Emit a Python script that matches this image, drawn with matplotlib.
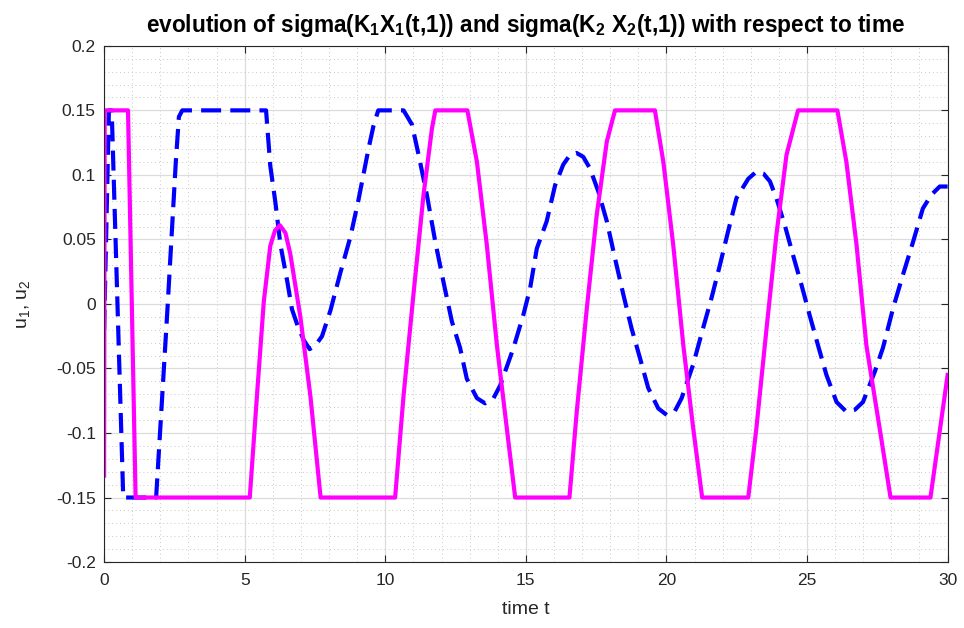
import numpy as np
import matplotlib
matplotlib.use("Agg")
import matplotlib.pyplot as plt
from matplotlib.ticker import MultipleLocator, FuncFormatter

plt.rcParams['font.family'] = ['Liberation Sans', 'DejaVu Sans']
plt.rcParams['mathtext.default'] = 'regular'

# u1 = sigma(K1 X1(t,1))  (magenta, solid)
t_u1 = [0, 0.02, 0.85, 1.12, 5.18, 5.44, 5.68, 5.91, 6.08, 6.25, 6.45, 6.62, 6.98,
        7.34, 7.70, 10.35, 10.65, 11.0, 11.36, 11.66, 11.78, 12.92, 13.26, 13.61,
        13.97, 14.32, 14.62, 16.55, 16.81, 17.17, 17.52, 17.88, 18.17, 19.59, 19.89,
        20.24, 20.60, 20.95, 21.27, 22.91, 23.20, 23.56, 23.91, 24.27, 24.68, 26.08,
        26.40, 26.76, 27.11, 27.58, 27.97, 29.39, 30.0]
u1 = [-0.133, 0.15, 0.15, -0.15, -0.15, -0.07, 0.002, 0.045, 0.057, 0.061, 0.055,
      0.039, -0.010, -0.072, -0.15, -0.15, -0.071, 0.007, 0.0845, 0.136, 0.15, 0.15,
      0.110, 0.046, -0.032, -0.096, -0.15, -0.15, -0.0835, -0.003, 0.069, 0.126,
      0.15, 0.15, 0.110, 0.046, -0.032, -0.096, -0.15, -0.15, -0.096, -0.019,
      0.0535, 0.1155, 0.15, 0.15, 0.110, 0.046, -0.032, -0.096, -0.15, -0.15, -0.055]

# u2 = sigma(K2 X2(t,1))  (blue, dashed)
t_u2 = [0, 0.17, 0.27, 0.68, 1.85, 2.25, 2.55, 2.66, 2.78, 5.76, 5.91, 6.09, 6.27,
        6.51, 6.68, 6.90, 7.10, 7.31, 7.52, 7.75, 8.05, 8.40, 8.76, 9.05, 9.41,
        9.58, 9.75, 10.65, 10.95, 11.18, 11.48, 11.78, 12.07, 12.37, 12.66, 12.90,
        13.26, 13.55, 13.85, 14.09, 14.56, 14.91, 15.15, 15.39, 15.74, 16.04, 16.33,
        16.57, 16.80, 17.04, 17.28, 17.58, 17.88, 18.17, 18.47, 18.76, 19.06, 19.35,
        19.71, 20.01, 20.30, 20.54, 20.95, 21.30, 21.60, 21.90, 22.19, 22.49, 22.91,
        23.20, 23.45, 23.68, 23.91, 24.21, 24.50, 24.80, 25.09, 25.39, 25.69, 26.05,
        26.40, 26.70, 26.99, 27.41, 27.70, 28.06, 28.41, 28.77, 29.12, 29.42, 29.72,
        30.0]
u2 = [-0.02, 0.15, 0.15, -0.15, -0.15, -0.005, 0.11, 0.145, 0.15, 0.15, 0.107,
      0.079, 0.046, 0.018, -0.004, -0.018, -0.028, -0.035, -0.032, -0.025, -0.005,
      0.024, 0.052, 0.081, 0.121, 0.138, 0.15, 0.15, 0.139, 0.116, 0.0845, 0.048,
      0.017, -0.0137, -0.034, -0.058, -0.073, -0.077, -0.073, -0.063, -0.034,
      -0.0085, 0.012, 0.043, 0.064, 0.092, 0.108, 0.1155, 0.117, 0.114, 0.105,
      0.087, 0.064, 0.0354, 0.007, -0.019, -0.042, -0.065, -0.081, -0.086, -0.083,
      -0.073, -0.047, -0.019, 0.0044, 0.030, 0.056, 0.082, 0.097, 0.1025, 0.101,
      0.095, 0.082, 0.061, 0.038, 0.015, -0.0085, -0.032, -0.055, -0.076, -0.0835,
      -0.082, -0.076, -0.0525, -0.034, -0.0033, 0.0225, 0.048, 0.074, 0.0845,
      0.091, 0.091]

xticks = [0, 5, 10, 15, 20, 25, 30]
yticks = [-0.2, -0.15, -0.1, -0.05, 0, 0.05, 0.1, 0.15, 0.2]

fig = plt.figure(figsize=(9.64, 6.28), dpi=100)
ax = fig.add_axes([0.108, 0.105, 0.875, 0.822])

ax.plot(t_u2, u2, color='#0000ff', lw=3, ls=(0, (4.8, 2.2)))
ax.plot(t_u1, u1, color='#ff00ff', lw=3)

ax.set_xlim(0, 30)
ax.set_ylim(-0.2, 0.2)
ax.set_xticks(xticks)
ax.set_yticks(yticks)
ax.xaxis.set_minor_locator(MultipleLocator(1))
ax.yaxis.set_minor_locator(MultipleLocator(0.01))
ax.yaxis.set_major_formatter(FuncFormatter(lambda v, p: ('%g' % round(v, 3))))

ax.grid(which='major', color='#dcdcdc', lw=0.9)
ax.grid(which='minor', color='#c8c8c8', lw=0.7, ls=(0, (1, 3)))
ax.set_axisbelow(True)

ax.tick_params(which='major', direction='in', length=5, width=0.8, colors='#262626',
               labelsize=12.5, top=True, right=True)
ax.tick_params(axis='x', which='major', pad=8)
ax.tick_params(axis='y', which='major', pad=6)
ax.tick_params(which='minor', length=0, top=True, right=True)
for s in ax.spines.values():
    s.set_color('#262626')
    s.set_linewidth(0.8)

ax.set_xlabel('time t', fontsize=14, color='#262626', labelpad=9)
ax.set_ylabel('u$_1$, u$_2$', fontsize=14, color='#262626', labelpad=17)
ax.set_title('evolution of sigma(K$_1$X$_1$(t,1)) and sigma(K$_2$ X$_2$(t,1)) with respect to time',
             fontsize=16.3, fontweight='bold', pad=10)

fig.savefig('out.png', dpi=100)
